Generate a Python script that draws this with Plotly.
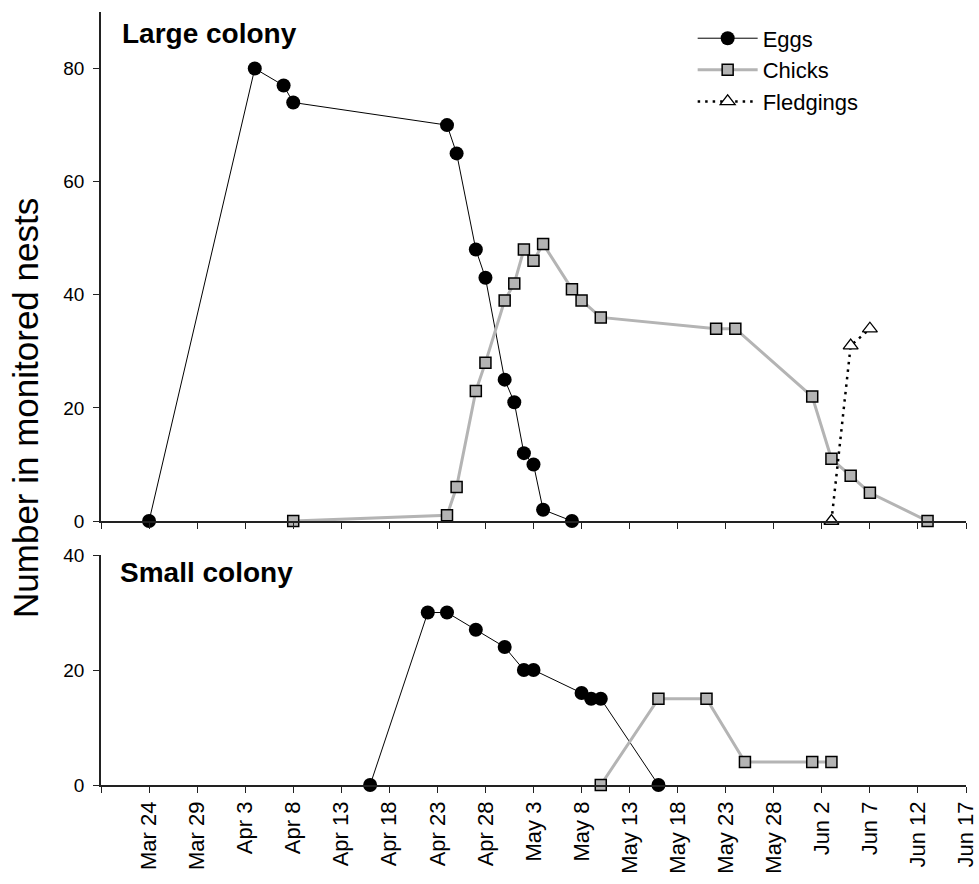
import plotly.graph_objects as go

YEAR = "2010"

# Large colony
large_eggs_dates = ["03-24", "04-04", "04-07", "04-08", "04-24", "04-25", "04-27", "04-28",
                    "04-30", "05-01", "05-02", "05-03", "05-04", "05-07"]
large_eggs_vals = [0, 80, 77, 74, 70, 65, 48, 43, 25, 21, 12, 10, 2, 0]

large_chicks_dates = ["04-08", "04-24", "04-25", "04-27", "04-28", "04-30", "05-01", "05-02",
                      "05-03", "05-04", "05-07", "05-08", "05-10", "05-22", "05-24", "06-01",
                      "06-03", "06-05", "06-07", "06-13"]
large_chicks_vals = [0, 1, 6, 23, 28, 39, 42, 48, 46, 49, 41, 39, 36, 34, 34, 22, 11, 8, 5, 0]

large_fledg_dates = ["06-03", "06-05", "06-07"]
large_fledg_vals = [0, 31, 34]

# Small colony
small_eggs_dates = ["04-16", "04-22", "04-24", "04-27", "04-30", "05-02", "05-03", "05-08",
                    "05-09", "05-10", "05-16"]
small_eggs_vals = [0, 30, 30, 27, 24, 20, 20, 16, 15, 15, 0]

small_chicks_dates = ["05-10", "05-16", "05-21", "05-25", "06-01", "06-03"]
small_chicks_vals = [0, 15, 15, 4, 4, 4]

# x ticks
tick_dates = ["03-19", "03-24", "03-29", "04-03", "04-08", "04-13", "04-18", "04-23", "04-28",
              "05-03", "05-08", "05-13", "05-18", "05-23", "05-28", "06-02", "06-07", "06-12",
              "06-17"]
tick_labels = ["", "Mar 24", "Mar 29", "Apr 3", "Apr 8", "Apr 13", "Apr 18", "Apr 23", "Apr 28",
               "May 3", "May 8", "May 13", "May 18", "May 23", "May 28", "Jun 2", "Jun 7",
               "Jun 12", "Jun 17"]


def d(lst):
    return [f"{YEAR}-{s}" for s in lst]


FONT = "Liberation Sans, Arial, sans-serif"

egg_style = dict(mode="lines+markers", line=dict(color="black", width=1),
                 marker=dict(symbol="circle", size=14, color="black"))
chick_style = dict(mode="lines+markers", line=dict(color="#b4b4b4", width=3),
                   marker=dict(symbol="square", size=11, color="#b4b4b4",
                               line=dict(color="black", width=1.5)))
fledg_style = dict(mode="lines+markers", line=dict(color="black", width=2.5, dash="2.5px,5px"),
                   marker=dict(symbol="triangle-up", size=13, color="white",
                               line=dict(color="black", width=1.3)))

fig = go.Figure()
fig.add_trace(go.Scatter(x=d(large_eggs_dates), y=large_eggs_vals, name="Eggs",
                         xaxis="x", yaxis="y", cliponaxis=False, **egg_style))
fig.add_trace(go.Scatter(x=d(large_chicks_dates), y=large_chicks_vals, name="Chicks",
                         xaxis="x", yaxis="y", cliponaxis=False, **chick_style))
fig.add_trace(go.Scatter(x=d(large_fledg_dates), y=large_fledg_vals, name="Fledgings",
                         xaxis="x", yaxis="y", cliponaxis=False, **fledg_style))
fig.add_trace(go.Scatter(x=d(small_eggs_dates), y=small_eggs_vals, name="Eggs",
                         xaxis="x2", yaxis="y2", showlegend=False, cliponaxis=False, **egg_style))
fig.add_trace(go.Scatter(x=d(small_chicks_dates), y=small_chicks_vals, name="Chicks",
                         xaxis="x2", yaxis="y2", showlegend=False, cliponaxis=False, **chick_style))

xrange = [f"{YEAR}-03-19", f"{YEAR}-06-17"]
axis_common = dict(showline=True, linecolor="#222", linewidth=1.5, ticks="outside",
                   tickcolor="#222", tickwidth=1.2, ticklen=6, showgrid=False, zeroline=False,
                   automargin=False)
xfont = dict(family=FONT, size=22, color="black")
yfont = dict(family=FONT, size=19, color="black")

fig.update_layout(
    width=979, height=884,
    margin=dict(l=101, r=13, t=12, b=99),
    paper_bgcolor="white", plot_bgcolor="white",
    font=dict(family=FONT, color="black"),
    xaxis=dict(domain=[0, 1], anchor="y", range=xrange, tickvals=d(tick_dates),
               ticktext=tick_labels, showticklabels=False, tickfont=xfont, **axis_common),
    yaxis=dict(domain=[0.3415, 1], anchor="x", range=[0, 90], tickvals=[0, 20, 40, 60, 80],
               tickfont=yfont, ticklabelstandoff=5, **axis_common),
    xaxis2=dict(domain=[0, 1], anchor="y2", range=xrange, tickvals=d(tick_dates),
                ticktext=tick_labels, tickangle=-90, tickfont=xfont, **axis_common),
    yaxis2=dict(domain=[0, 0.2975], anchor="x2", range=[0, 40], tickvals=[0, 20, 40],
                tickfont=yfont, ticklabelstandoff=5, **axis_common),
    legend=dict(x=0.684, y=0.993, xanchor="left", yanchor="top", bgcolor="rgba(0,0,0,0)",
                font=dict(family=FONT, size=22, color="black"), tracegroupgap=0,
                itemwidth=60),
    annotations=[
        dict(text="<b>Large colony</b>", xref="paper", yref="paper", x=0.022, y=0.9728,
             xanchor="left", yanchor="middle", showarrow=False,
             font=dict(family=FONT, size=28, color="black")),
        dict(text="<b>Small colony</b>", xref="paper", yref="paper", x=0.020, y=0.2743,
             xanchor="left", yanchor="middle", showarrow=False,
             font=dict(family=FONT, size=28, color="black")),
        dict(text="Number in monitored nests", xref="paper", yref="paper", x=-0.0879, y=0.4877,
             xanchor="center", yanchor="middle", textangle=-90, showarrow=False,
             font=dict(family=FONT, size=35, color="black")),
    ],
)

fig.write_html("out.html", config={"displayModeBar": False},
               post_script="document.body.style.margin='0px';")
